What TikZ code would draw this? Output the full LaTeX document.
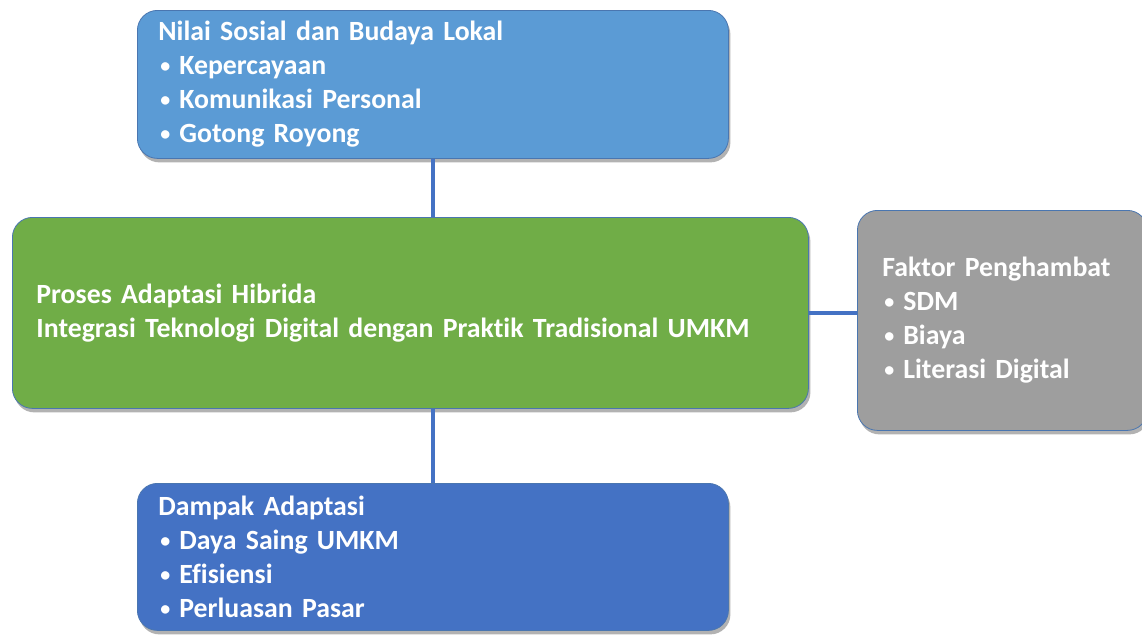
\documentclass[tikz,border=0pt]{standalone}
\usepackage{fontspec}
\setmainfont{Carlito}[Ligatures=NoCommon]
\usetikzlibrary{shadows}
\definecolor{birumuda}{HTML}{5B9BD5}
\definecolor{hijau}{HTML}{70AD47}
\definecolor{abu}{HTML}{9E9E9E}
\definecolor{birutua}{HTML}{4472C4}
\definecolor{garis}{HTML}{4A76B0}
\newcommand{\titik}{\hspace{2pt}\raisebox{2pt}{\fontsize{20}{0}\selectfont•}\hspace{9pt}}
\tikzset{
  kotak/.style={draw=garis, line width=0.8pt, rounded corners=20pt, anchor=north west,
    text=white, align=left, font=\fontsize{27.8}{34}\selectfont\bfseries,
    inner xsep=21pt, inner ysep=0pt,
    drop shadow={shadow xshift=2pt, shadow yshift=-4pt, opacity=.3, fill=black}},
  hubung/.style={draw=birutua, line width=3.5pt}
}
\begin{document}
\begin{tikzpicture}[x=1pt, y=-1pt]
  \useasboundingbox (0,0) rectangle (1142,637);
  \clip (0,0) rectangle (1142,637);
  \node[kotak, fill=birumuda, minimum width=591pt, minimum height=148pt, text width=549pt] (nilai) at (137,10)
    {Nilai Sosial dan Budaya Lokal\\\titik Kepercayaan\\\titik Komunikasi Personal\\\titik Gotong Royong};
  \node[kotak, fill=hijau, minimum width=796pt, minimum height=191pt, inner xsep=24pt, text width=748pt] (proses) at (12,217)
    {Proses Adaptasi Hibrida\\Integrasi Teknologi Digital dengan Praktik Tradisional UMKM};
  \node[kotak, fill=abu, minimum width=290pt, minimum height=220pt, inner xsep=25pt, text width=240pt] (hambat) at (857,210)
    {Faktor Penghambat\\\titik SDM\\\titik Biaya\\\titik Literasi Digital};
  \node[kotak, fill=birutua, minimum width=591pt, minimum height=147pt, text width=549pt] (dampak) at (137,483)
    {Dampak Adaptasi\\\titik Daya Saing UMKM\\\titik Efisiensi\\\titik Perluasan Pasar};
  \draw[hubung] (nilai.south) -- (nilai.south |- proses.north);
  \draw[hubung] (proses.south -| dampak.north) -- (dampak.north);
  \draw[hubung] (proses.east) -- (proses.east -| hambat.west);
\end{tikzpicture}
\end{document}
